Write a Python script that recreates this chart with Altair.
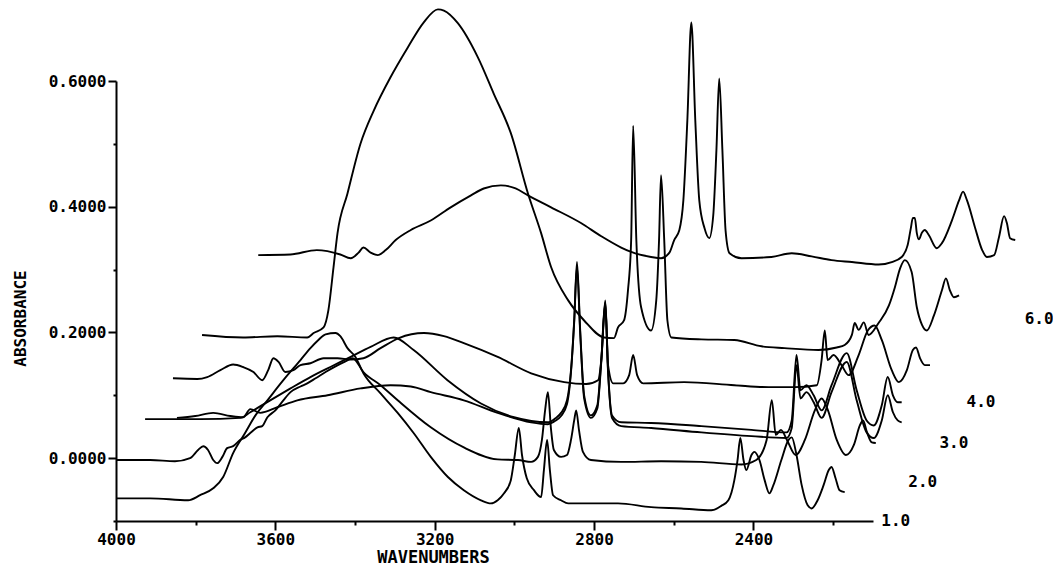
import altair as alt
import pandas as pd

# Spectra as drawn (wavenumber, absorbance)
A = [(3998,-0.064),(3914,-0.064),(3819,-0.067),(3789,-0.059),(3756,-0.048),(3731,-0.030),(3706,0.008),(3676,0.040),(3650,0.068),(3620,0.092),(3580,0.124),(3537,0.156),(3512,0.175),(3492,0.188),(3474,0.197),(3449,0.199),(3437,0.194),(3419,0.175),(3399,0.161),(3379,0.135),(3336,0.103),(3293,0.072),(3253,0.040),(3210,0.002),(3167,-0.030),(3127,-0.051),(3084,-0.067),(3059,-0.072),(3042,-0.067),(3026,-0.056),(3009,-0.035),(2999,0.005),(2989,0.048),(2981,0.005),(2969,-0.032),(2951,-0.051),(2933,-0.062),(2926,-0.019),(2918,0.029),(2911,-0.019),(2903,-0.059),(2883,-0.067),(2865,-0.072),(2782,-0.072),(2740,-0.072),(2657,-0.078),(2581,-0.080),(2506,-0.083),(2481,-0.076),(2463,-0.067),(2448,-0.035),(2440,-0.003),(2433,0.032),(2425,-0.003),(2418,-0.019),(2405,0.005),(2398,0.010),(2385,-0.003),(2372,-0.035),(2360,-0.056),(2350,-0.043),(2330,-0.003),(2312,0.029),(2304,0.033),(2292,0.005),(2279,-0.043),(2264,-0.075),(2254,-0.080),(2239,-0.067),(2224,-0.043),(2211,-0.019),(2204,-0.014),(2194,-0.032),(2184,-0.051),(2171,-0.054)]

B = [(3998,-0.003),(3914,-0.003),(3852,-0.005),(3814,0.000),(3794,0.013),(3781,0.019),(3769,0.013),(3756,-0.003),(3746,-0.008),(3733,0.002),(3721,0.016),(3706,0.019),(3688,0.029),(3676,0.033),(3663,0.040),(3645,0.049),(3633,0.051),(3620,0.065),(3600,0.076),(3580,0.092),(3562,0.105),(3537,0.114),(3520,0.119),(3499,0.127),(3474,0.137),(3449,0.146),(3424,0.154),(3406,0.159),(3379,0.137),(3336,0.116),(3293,0.092),(3210,0.049),(3127,0.017),(3042,-0.002),(2991,-0.003),(2958,-0.006),(2941,0.002),(2931,0.029),(2923,0.076),(2916,0.105),(2908,0.045),(2901,0.013),(2883,0.002),(2868,0.005),(2858,0.029),(2850,0.060),(2845,0.076),(2838,0.045),(2828,0.010),(2808,-0.003),(2732,-0.006),(2632,-0.005),(2531,-0.006),(2430,-0.010),(2393,-0.003),(2367,0.029),(2354,0.092),(2344,0.037),(2331,0.045),(2316,0.029),(2294,0.005),(2271,0.029),(2246,0.076),(2229,0.095),(2213,0.076),(2191,0.029),(2168,0.005),(2148,0.021),(2133,0.052),(2125,0.060),(2115,0.041),(2103,0.025),(2093,0.024)]

C = [(3927,0.062),(3789,0.062),(3688,0.064),(3663,0.073),(3613,0.092),(3562,0.111),(3512,0.129),(3462,0.145),(3411,0.161),(3361,0.177),(3303,0.192),(3253,0.172),(3168,0.124),(3084,0.087),(3001,0.065),(2916,0.057),(2896,0.064),(2883,0.072),(2868,0.092),(2858,0.140),(2850,0.219),(2843,0.312),(2835,0.204),(2825,0.100),(2808,0.068),(2792,0.084),(2782,0.156),(2772,0.251),(2765,0.140),(2755,0.068),(2732,0.057),(2657,0.056),(2531,0.051),(2405,0.045),(2317,0.041),(2304,0.060),(2292,0.164),(2282,0.108),(2267,0.116),(2249,0.100),(2229,0.076),(2204,0.116),(2166,0.167),(2141,0.108),(2116,0.060),(2098,0.052),(2078,0.084),(2063,0.129),(2050,0.100),(2038,0.089),(2028,0.089)]

C2 = [(3847,0.064),(3801,0.067),(3756,0.072),(3713,0.067),(3681,0.065),(3663,0.078),(3638,0.072),(3595,0.081),(3545,0.092),(3469,0.100),(3386,0.111),(3311,0.116),(3260,0.114),(3210,0.105),(3127,0.092),(3042,0.072),(2958,0.057),(2916,0.054),(2896,0.060),(2883,0.067),(2868,0.086),(2858,0.137),(2850,0.216),(2843,0.305),(2835,0.200),(2825,0.095),(2808,0.064),(2792,0.079),(2782,0.153),(2772,0.245),(2765,0.137),(2755,0.064),(2732,0.051),(2657,0.048),(2531,0.041),(2405,0.035),(2317,0.032),(2304,0.048),(2292,0.148),(2282,0.095),(2267,0.105),(2249,0.089),(2229,0.064),(2204,0.105),(2166,0.153),(2141,0.092),(2116,0.041),(2098,0.032),(2078,0.060),(2063,0.100),(2050,0.073),(2038,0.060),(2028,0.057)]

D = [(3857,0.127),(3796,0.126),(3771,0.129),(3738,0.140),(3706,0.149),(3681,0.145),(3655,0.137),(3633,0.124),(3618,0.140),(3605,0.159),(3592,0.153),(3575,0.137),(3555,0.140),(3537,0.148),(3512,0.151),(3479,0.159),(3444,0.159),(3411,0.157),(3379,0.159),(3336,0.175),(3290,0.191),(3227,0.199),(3177,0.194),(3127,0.183),(3042,0.161),(2958,0.135),(2875,0.121),(2820,0.118),(2790,0.124),(2782,0.156),(2772,0.248),(2765,0.148),(2752,0.119),(2727,0.119),(2712,0.132),(2702,0.164),(2692,0.132),(2677,0.119),(2574,0.121),(2448,0.116),(2362,0.113),(2297,0.113),(2241,0.116),(2229,0.156),(2221,0.203),(2214,0.156),(2199,0.164),(2179,0.148),(2161,0.132),(2136,0.164),(2113,0.203),(2096,0.211),(2078,0.188),(2053,0.140),(2035,0.121),(2015,0.140),(2000,0.172),(1992,0.176),(1982,0.159),(1970,0.148),(1957,0.148)]

E = [(3784,0.196),(3681,0.192),(3595,0.194),(3520,0.192),(3504,0.199),(3479,0.208),(3467,0.235),(3454,0.304),(3444,0.358),(3419,0.421),(3386,0.501),(3353,0.553),(3311,0.606),(3268,0.653),(3228,0.693),(3192,0.714),(3177,0.712),(3142,0.692),(3092,0.638),(3052,0.580),(3009,0.517),(2966,0.421),(2933,0.358),(2908,0.304),(2865,0.251),(2825,0.219),(2775,0.192),(2750,0.191),(2740,0.208),(2725,0.219),(2715,0.267),(2707,0.347),(2702,0.529),(2694,0.347),(2682,0.240),(2657,0.203),(2644,0.251),(2637,0.347),(2632,0.450),(2624,0.347),(2616,0.219),(2606,0.192),(2531,0.189),(2448,0.188),(2380,0.178),(2322,0.175),(2237,0.172),(2191,0.176),(2171,0.180),(2153,0.196),(2146,0.215),(2136,0.204),(2123,0.216),(2111,0.196),(2086,0.215),(2060,0.243),(2045,0.272),(2032,0.302),(2020,0.315),(2003,0.296),(1990,0.240),(1977,0.212),(1965,0.203),(1947,0.227),(1927,0.267),(1917,0.286),(1907,0.267),(1897,0.256),(1884,0.259)]

F = [(3643,0.323),(3562,0.324),(3496,0.331),(3437,0.324),(3411,0.318),(3391,0.327),(3379,0.335),(3361,0.327),(3343,0.323),(3323,0.331),(3298,0.347),(3260,0.363),(3210,0.378),(3160,0.399),(3109,0.418),(3077,0.429),(3034,0.434),(2997,0.429),(2966,0.418),(2908,0.399),(2833,0.374),(2782,0.353),(2732,0.335),(2707,0.328),(2657,0.320),(2632,0.318),(2611,0.327),(2599,0.347),(2586,0.363),(2576,0.410),(2566,0.537),(2556,0.693),(2546,0.537),(2536,0.410),(2523,0.366),(2511,0.350),(2501,0.386),(2493,0.490),(2486,0.604),(2478,0.490),(2470,0.362),(2460,0.326),(2430,0.318),(2355,0.320),(2304,0.326),(2254,0.321),(2204,0.315),(2153,0.312),(2086,0.308),(2053,0.312),(2028,0.320),(2013,0.339),(2005,0.366),(2000,0.382),(1995,0.382),(1990,0.358),(1985,0.348),(1977,0.359),(1970,0.363),(1960,0.355),(1940,0.334),(1927,0.342),(1902,0.378),(1884,0.410),(1874,0.424),(1864,0.410),(1844,0.367),(1826,0.331),(1814,0.320),(1796,0.323),(1784,0.351),(1771,0.385),(1764,0.374),(1756,0.350),(1743,0.347)]

curves = {"A": A, "B": B, "C": C, "C2": C2, "D": D, "E": E, "F": F}

label_text = ["1.0", "2.0", "3.0", "4.0", "6.0"]
label_wn = [2043, 1975, 1897, 1829, 1683]
label_abs = [-0.100, -0.038, 0.024, 0.089, 0.221]

x_ticks = [4000, 3800, 3600, 3400, 3200, 3000, 2800, 2600, 2400, 2200]
y_ticks = [-0.1, 0.0, 0.1, 0.2, 0.3, 0.4, 0.5, 0.6]

rows = []
for name, pts in curves.items():
    for i, (w, a) in enumerate(pts):
        rows.append({"curve": name, "i": i, "wn": w, "absorbance": a})
df = pd.DataFrame(rows)
lab = pd.DataFrame({"label": label_text, "wn": label_wn, "absorbance": label_abs})

FONT = "DejaVu Sans Mono"

xscale = alt.Scale(domain=[4000, 2100], nice=False, zero=False)
yscale = alt.Scale(domain=[-0.1, 0.6], nice=False, zero=False)

xaxis = alt.Axis(
    values=x_ticks,
    labelExpr="datum.value % 400 === 0 ? datum.value : ''",
    tickSize={"condition": {"test": "datum.value % 400 === 0", "value": 9}, "value": 4},
    labelPadding=1, labelFont=FONT, labelFontWeight="bold", labelFontSize=16,
    labelColor="black", labelFlush=False, labelOverlap=False,
    domainColor="black", domainWidth=2, tickColor="black", tickWidth=2,
    grid=False, title="WAVENUMBERS", titleFont=FONT, titleFontWeight="bold",
    titleFontSize=17, titleColor="black", titleX=317, titleY=36,
    titleAlign="center", titleBaseline="middle",
)
yaxis = alt.Axis(
    values=y_ticks,
    labelExpr="round(datum.value*10) % 2 === 0 ? format(datum.value, '.4f') : ''",
    tickSize={"condition": {"test": "round(datum.value*10) % 2 === 0", "value": 8}, "value": 3},
    labelPadding=2, labelFont=FONT, labelFontWeight="bold", labelFontSize=16,
    labelColor="black", labelFlush=False, labelOverlap=False,
    domainColor="black", domainWidth=2, tickColor="black", tickWidth=2,
    grid=False, title="ABSORBANCE", titleFont=FONT, titleFontWeight="bold",
    titleFontSize=16, titleColor="black", titleX=-96, titleY=237,
    titleAlign="center", titleBaseline="middle", titleAngle=-90,
)

lines = alt.Chart(df).mark_line(color="black", strokeWidth=1.9, strokeJoin="round",
                                interpolate="monotone").encode(
    x=alt.X("wn:Q", scale=xscale, axis=xaxis),
    y=alt.Y("absorbance:Q", scale=yscale, axis=yaxis),
    detail="curve:N",
    order="i:Q",
)

labels = alt.Chart(lab).mark_text(font=FONT, fontWeight="bold", fontSize=16, color="black",
                                  align="center", baseline="middle").encode(
    x=alt.X("wn:Q", scale=xscale),
    y=alt.Y("absorbance:Q", scale=yscale),
    text="label:N",
)

chart = alt.layer(lines, labels).properties(
    width=757, height=440,
    background="white",
    autosize=alt.AutoSizeParams(type="none"),
    padding={"left": 108, "top": 73, "right": 180, "bottom": 44},
).configure_view(strokeWidth=0, strokeOpacity=0)

chart.save("out.html", embed_options={"renderer": "svg", "actions": False})
